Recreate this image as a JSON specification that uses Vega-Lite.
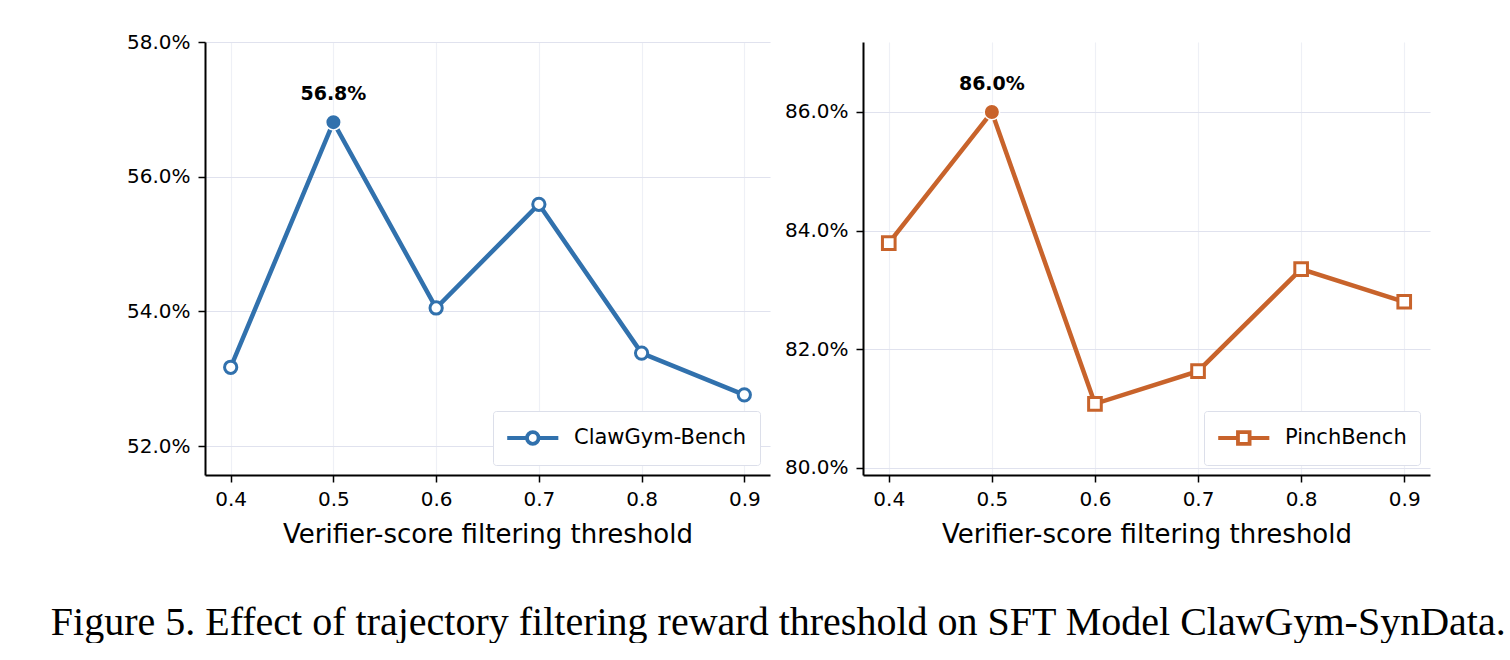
{
  "$schema": "https://vega.github.io/schema/vega-lite/v6.json",
  "background": "white",
  "padding": {"left": 50, "top": 32, "right": 0, "bottom": 0},
  "data": {"values": [
    {"bench": "ClawGym-Bench", "threshold": 0.4, "score": 0.5317, "peak": false},
    {"bench": "ClawGym-Bench", "threshold": 0.5, "score": 0.5681, "peak": true},
    {"bench": "ClawGym-Bench", "threshold": 0.6, "score": 0.5405, "peak": false},
    {"bench": "ClawGym-Bench", "threshold": 0.7, "score": 0.5559, "peak": false},
    {"bench": "ClawGym-Bench", "threshold": 0.8, "score": 0.5338, "peak": false},
    {"bench": "ClawGym-Bench", "threshold": 0.9, "score": 0.5276, "peak": false},
    {"bench": "PinchBench", "threshold": 0.4, "score": 0.8379, "peak": false},
    {"bench": "PinchBench", "threshold": 0.5, "score": 0.8600, "peak": true},
    {"bench": "PinchBench", "threshold": 0.6, "score": 0.8108, "peak": false},
    {"bench": "PinchBench", "threshold": 0.7, "score": 0.8163, "peak": false},
    {"bench": "PinchBench", "threshold": 0.8, "score": 0.8335, "peak": false},
    {"bench": "PinchBench", "threshold": 0.9, "score": 0.8280, "peak": false}
  ]},
  "spacing": 14,
  "resolve": {"scale": {"color": "independent", "x": "independent", "y": "independent"}, "legend": {"color": "independent"}},
  "title": {
    "text": "Figure 5. Effect of trajectory filtering reward threshold on SFT Model ClawGym-SynData.",
    "orient": "bottom",
    "anchor": "middle",
    "font": "Liberation Serif",
    "fontSize": 40,
    "fontWeight": "normal",
    "color": "black",
    "offset": 56
  },
  "hconcat": [
    {
      "width": 565,
      "height": 433,
      "transform": [{"filter": "datum.bench === 'ClawGym-Bench'"}],
      "layer": [
        {
          "mark": {"type": "line", "strokeWidth": 4.5},
          "encoding": {
            "x": {"field": "threshold", "type": "quantitative", "scale": {"domain": [0.375, 0.925], "nice": false, "zero": false},
                  "axis": {"values": [0.4, 0.5, 0.6, 0.7, 0.8, 0.9], "format": ".1f", "title": "Verifier-score filtering threshold", "gridColor": "#eef0f6", "labelPadding": 7}},
            "y": {"field": "score", "type": "quantitative", "scale": {"domain": [0.5157, 0.58], "nice": false, "zero": false},
                  "axis": {"values": [0.52, 0.54, 0.56, 0.58], "format": ".1%", "title": null, "labelPadding": 8}},
            "color": {"field": "bench", "type": "nominal", "scale": {"range": ["#3171ad"]},
                      "legend": {"title": null, "orient": "bottom-right", "offset": 10, "labelLimit": 400,
                                 "symbolType": "M-1.1,0H0.6A0.5,0.5 0 1,1 1.6,0A0.5,0.5 0 1,1 0.6,0M1.6,0H3.3",
                                 "symbolSize": 540, "symbolStrokeWidth": 3.8, "symbolFillColor": "white", "labelOffset": 40,
                                 "encode": {"symbols": {"update": {"fill": {"value": "white"}, "strokeWidth": {"value": 3.8}}}}}}
          }
        },
        {
          "transform": [{"filter": "!datum.peak"}],
          "mark": {"type": "point", "shape": "circle", "filled": true, "fill": "white", "stroke": "#3171ad", "strokeWidth": 3, "size": 150, "opacity": 1},
          "encoding": {
            "x": {"field": "threshold", "type": "quantitative"},
            "y": {"field": "score", "type": "quantitative"}
          }
        },
        {
          "transform": [{"filter": "datum.peak"}],
          "mark": {"type": "point", "shape": "circle", "filled": true, "fill": "#3171ad", "stroke": "white", "strokeWidth": 1.5, "size": 240, "opacity": 1},
          "encoding": {
            "x": {"field": "threshold", "type": "quantitative"},
            "y": {"field": "score", "type": "quantitative"}
          }
        },
        {
          "transform": [{"filter": "datum.peak"}],
          "mark": {"type": "text", "font": "DejaVu Sans", "fontWeight": "bold", "fontSize": 19, "baseline": "alphabetic", "dy": -22, "color": "black"},
          "encoding": {
            "x": {"field": "threshold", "type": "quantitative"},
            "y": {"field": "score", "type": "quantitative"},
            "text": {"field": "score", "type": "quantitative", "format": ".1%"}
          }
        }
      ]
    },
    {
      "width": 567,
      "height": 433,
      "transform": [{"filter": "datum.bench === 'PinchBench'"}],
      "layer": [
        {
          "mark": {"type": "line", "strokeWidth": 4.5},
          "encoding": {
            "x": {"field": "threshold", "type": "quantitative", "scale": {"domain": [0.375, 0.925], "nice": false, "zero": false},
                  "axis": {"values": [0.4, 0.5, 0.6, 0.7, 0.8, 0.9], "format": ".1f", "title": "Verifier-score filtering threshold", "gridColor": "#eef0f6", "labelPadding": 7}},
            "y": {"field": "score", "type": "quantitative", "scale": {"domain": [0.7988, 0.8718], "nice": false, "zero": false},
                  "axis": {"values": [0.80, 0.82, 0.84, 0.86], "format": ".1%", "title": null, "labelPadding": 8}},
            "color": {"field": "bench", "type": "nominal", "scale": {"range": ["#c8632b"]},
                      "legend": {"title": null, "orient": "bottom-right", "offset": 10, "labelLimit": 400,
                                 "symbolType": "M-1.1,0H0.6V-0.5H1.6V0.5H0.6V0M1.6,0H3.3",
                                 "symbolSize": 540, "symbolStrokeWidth": 3.8, "symbolFillColor": "white", "labelOffset": 40,
                                 "encode": {"symbols": {"update": {"fill": {"value": "white"}, "strokeWidth": {"value": 3.8}}}}}}
          }
        },
        {
          "transform": [{"filter": "!datum.peak"}],
          "mark": {"type": "point", "shape": "square", "filled": true, "fill": "white", "stroke": "#c8632b", "strokeWidth": 3, "size": 160, "opacity": 1},
          "encoding": {
            "x": {"field": "threshold", "type": "quantitative"},
            "y": {"field": "score", "type": "quantitative"}
          }
        },
        {
          "transform": [{"filter": "datum.peak"}],
          "mark": {"type": "point", "shape": "circle", "filled": true, "fill": "#c8632b", "stroke": "white", "strokeWidth": 1.5, "size": 240, "opacity": 1},
          "encoding": {
            "x": {"field": "threshold", "type": "quantitative"},
            "y": {"field": "score", "type": "quantitative"}
          }
        },
        {
          "transform": [{"filter": "datum.peak"}],
          "mark": {"type": "text", "font": "DejaVu Sans", "fontWeight": "bold", "fontSize": 19, "baseline": "alphabetic", "dy": -22, "color": "black"},
          "encoding": {
            "x": {"field": "threshold", "type": "quantitative"},
            "y": {"field": "score", "type": "quantitative"},
            "text": {"field": "score", "type": "quantitative", "format": ".1%"}
          }
        }
      ]
    }
  ],
  "config": {
    "view": {"stroke": null},
    "axis": {
      "domainColor": "black", "domainWidth": 2, "tickColor": "black", "tickWidth": 1.5, "tickSize": 7,
      "labelFont": "DejaVu Sans", "labelFontSize": 20, "labelColor": "black", "labelPadding": 6,
      "titleFont": "DejaVu Sans", "titleFontSize": 26, "titleFontWeight": "normal", "titleColor": "black", "titlePadding": 12,
      "grid": true, "gridColor": "#e0e2ee", "gridWidth": 1.2
    },
    "legend": {
      "labelFont": "DejaVu Sans", "labelFontSize": 21, "labelColor": "black",
      "strokeColor": "#dcdfea", "fillColor": "white", "padding": 13, "cornerRadius": 3
    }
  }
}
